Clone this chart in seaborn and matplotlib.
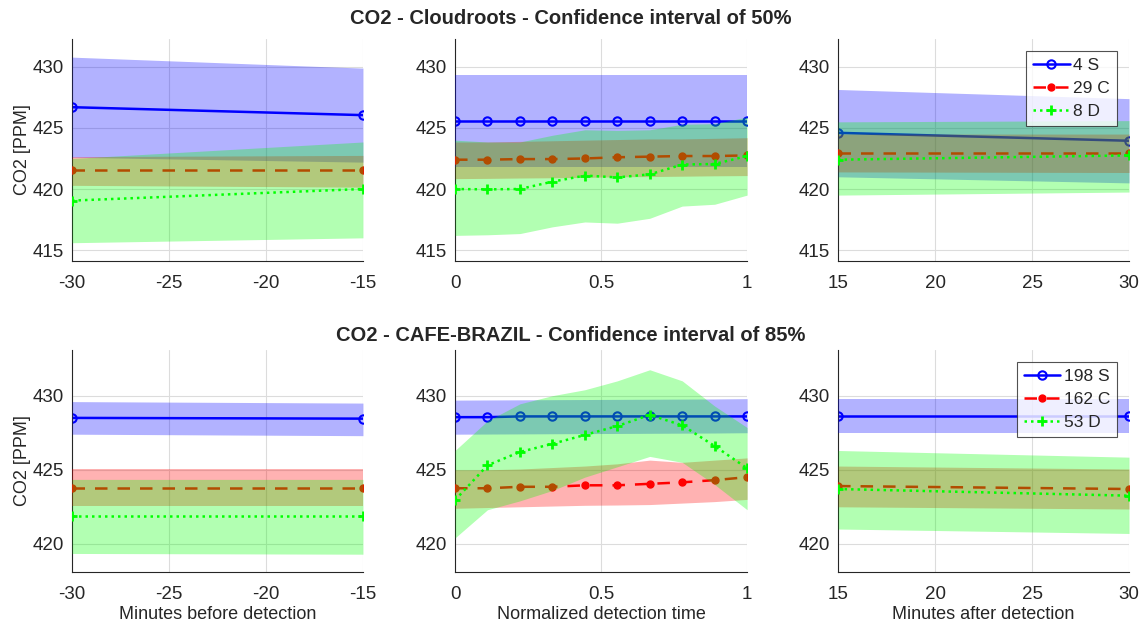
import numpy as np
import matplotlib
matplotlib.use("Agg")
import matplotlib.pyplot as plt
import seaborn as sns

sns.set_style("white")
plt.rcParams['font.family'] = ['Liberation Sans', 'DejaVu Sans']

# x positions
x_before = [-30, -15]
x_norm = [0, 1/9, 2/9, 3/9, 4/9, 5/9, 6/9, 7/9, 8/9, 1]
x_after = [15, 30]

# ---- Cloudroots (50%) ----
cr_before_S = [426.7, 426.05]
cr_before_S_lo = [422.6, 422.2]
cr_before_S_hi = [430.8, 429.9]
cr_before_C = [421.55, 421.55]
cr_before_C_lo = [420.3, 420.15]
cr_before_C_hi = [422.65, 422.75]
cr_before_D = [419.05, 420.0]
cr_before_D_lo = [415.6, 416.0]
cr_before_D_hi = [422.5, 423.85]

cr_norm_S = [425.55] * 10
cr_norm_S_lo = [421.8] * 10
cr_norm_S_hi = [429.3] * 10
cr_norm_C = [422.4, 422.4, 422.45, 422.45, 422.5, 422.6, 422.65, 422.7, 422.7, 422.75]
cr_norm_C_lo = [420.85, 420.87, 420.9, 420.92, 420.95, 421.0, 421.02, 421.05, 421.08, 421.1]
cr_norm_C_hi = [423.85, 423.85, 423.9, 423.95, 424.0, 424.05, 424.1, 424.1, 424.15, 424.2]
cr_norm_D = [420.0, 419.97, 420.0, 420.6, 421.1, 420.95, 421.2, 422.0, 422.05, 422.7]
cr_norm_D_lo = [416.2, 416.25, 416.35, 416.9, 417.3, 417.2, 417.6, 418.6, 418.75, 419.5]
cr_norm_D_hi = [424.0, 423.85, 423.85, 424.4, 424.85, 424.8, 424.85, 425.3, 425.35, 425.9]

cr_after_S = [424.6, 423.95]
cr_after_S_lo = [421.0, 420.5]
cr_after_S_hi = [428.15, 427.4]
cr_after_C = [422.95, 422.95]
cr_after_C_lo = [421.4, 421.35]
cr_after_C_hi = [424.5, 424.5]
cr_after_D = [422.4, 422.75]
cr_after_D_lo = [419.5, 419.75]
cr_after_D_hi = [425.5, 425.6]

# ---- CAFE-BRAZIL (85%) ----
cb_before_S = [428.5, 428.45]
cb_before_S_lo = [427.4, 427.3]
cb_before_S_hi = [429.6, 429.5]
cb_before_C = [423.8, 423.8]
cb_before_C_lo = [422.55, 422.55]
cb_before_C_hi = [425.05, 425.05]
cb_before_D = [421.85, 421.85]
cb_before_D_lo = [419.35, 419.3]
cb_before_D_hi = [424.35, 424.35]

cb_norm_S = [428.55, 428.55, 428.6, 428.6, 428.6, 428.6, 428.6, 428.6, 428.6, 428.6]
cb_norm_S_lo = [427.4, 427.41, 427.42, 427.43, 427.44, 427.45, 427.46, 427.47, 427.48, 427.5]
cb_norm_S_hi = [429.7, 429.71, 429.72, 429.73, 429.74, 429.75, 429.76, 429.77, 429.78, 429.8]
cb_norm_C = [423.75, 423.75, 423.85, 423.85, 423.95, 423.95, 424.05, 424.15, 424.3, 424.5]
cb_norm_C_lo = [422.4, 422.45, 422.5, 422.55, 422.6, 422.62, 422.65, 422.75, 422.85, 423.0]
cb_norm_C_hi = [425.0, 425.0, 425.05, 425.15, 425.25, 425.4, 425.65, 425.5, 425.65, 425.8]
cb_norm_D = [422.95, 425.3, 426.2, 426.75, 427.35, 427.95, 428.7, 428.0, 426.6, 425.1]
cb_norm_D_lo = [420.4, 422.3, 422.9, 423.6, 424.5, 425.2, 425.9, 425.5, 424.0, 422.3]
cb_norm_D_hi = [426.3, 428.3, 429.45, 430.0, 430.4, 431.0, 431.75, 431.0, 429.3, 427.85]

cb_after_S = [428.6, 428.6]
cb_after_S_lo = [427.45, 427.45]
cb_after_S_hi = [429.8, 429.8]
cb_after_C = [423.9, 423.7]
cb_after_C_lo = [422.5, 422.35]
cb_after_C_hi = [425.25, 425.05]
cb_after_D = [423.7, 423.25]
cb_after_D_lo = [421.0, 420.7]
cb_after_D_hi = [426.3, 425.85]

cr_labels = ["4 S", "29 C", "8 D"]
cb_labels = ["198 S", "162 C", "53 D"]

styles = [
    dict(color="#0000ff", linestyle="-", marker="o", markersize=6,
         markerfacecolor="none", markeredgecolor="#0000ff", markeredgewidth=1.5),
    dict(color="#ff0000", linestyle=(0, (5, 4)), marker=".", markersize=10,
         markerfacecolor="#ff0000", markeredgecolor="#ff0000", markeredgewidth=1),
    dict(color="#00ff00", linestyle=(0, (1, 1.6)), marker="+", markersize=7,
         markerfacecolor="#00ff00", markeredgecolor="#00ff00", markeredgewidth=2),
]

fig = plt.figure(figsize=(11.41, 6.26), dpi=100)

lefts = [0.0631, 0.3988, 0.7345]
widths = [0.255, 0.256, 0.255]
bottoms = [0.583, 0.0863]
height = 0.355

rows = [
    dict(title="CO2 - Cloudroots - Confidence interval of 50%", ylim=(414.1, 432.3),
         yticks=[415, 420, 425, 430], labels=cr_labels,
         panels=[
             (x_before, [(cr_before_S, cr_before_S_lo, cr_before_S_hi),
                         (cr_before_C, cr_before_C_lo, cr_before_C_hi),
                         (cr_before_D, cr_before_D_lo, cr_before_D_hi)]),
             (x_norm, [(cr_norm_S, cr_norm_S_lo, cr_norm_S_hi),
                       (cr_norm_C, cr_norm_C_lo, cr_norm_C_hi),
                       (cr_norm_D, cr_norm_D_lo, cr_norm_D_hi)]),
             (x_after, [(cr_after_S, cr_after_S_lo, cr_after_S_hi),
                        (cr_after_C, cr_after_C_lo, cr_after_C_hi),
                        (cr_after_D, cr_after_D_lo, cr_after_D_hi)]),
         ]),
    dict(title="CO2 - CAFE-BRAZIL - Confidence interval of 85%", ylim=(418.1, 433.1),
         yticks=[420, 425, 430], labels=cb_labels,
         panels=[
             (x_before, [(cb_before_S, cb_before_S_lo, cb_before_S_hi),
                         (cb_before_C, cb_before_C_lo, cb_before_C_hi),
                         (cb_before_D, cb_before_D_lo, cb_before_D_hi)]),
             (x_norm, [(cb_norm_S, cb_norm_S_lo, cb_norm_S_hi),
                       (cb_norm_C, cb_norm_C_lo, cb_norm_C_hi),
                       (cb_norm_D, cb_norm_D_lo, cb_norm_D_hi)]),
             (x_after, [(cb_after_S, cb_after_S_lo, cb_after_S_hi),
                        (cb_after_C, cb_after_C_lo, cb_after_C_hi),
                        (cb_after_D, cb_after_D_lo, cb_after_D_hi)]),
         ]),
]

xticks = [[-30, -25, -20, -15], [0, 0.5, 1], [15, 20, 25, 30]]
xticklabels = [["-30", "-25", "-20", "-15"], ["0", "0.5", "1"], ["15", "20", "25", "30"]]
xlabels = ["Minutes before detection", "Normalized detection time", "Minutes after detection"]
title_y = [0.971, 0.464]

for r, row in enumerate(rows):
    for c, (xs, series) in enumerate(row["panels"]):
        ax = fig.add_axes([lefts[c], bottoms[r], widths[c], height])
        for k, (y, lo, hi) in enumerate(series):
            st = styles[k]
            sns.lineplot(x=xs, y=y, ax=ax, linewidth=1.8, label=row["labels"][k],
                         legend=False, zorder=2 + 2 * k, **st)
            ax.fill_between(xs, lo, hi, color=st["color"], alpha=0.3,
                            linewidth=0, zorder=3 + 2 * k)
        ax.set_xlim(xs[0], xs[-1])
        ax.set_ylim(*row["ylim"])
        ax.set_yticks(row["yticks"])
        ax.set_xticks(xticks[c])
        ax.set_xticklabels(xticklabels[c])
        ax.grid(True, color="#dcdcdc", linewidth=0.8, zorder=0)
        ax.set_axisbelow(True)
        for s in ["top", "right"]:
            ax.spines[s].set_visible(False)
        for s in ["left", "bottom"]:
            ax.spines[s].set_color("#262626")
            ax.spines[s].set_linewidth(0.8)
        ax.tick_params(axis="both", labelsize=13.5, colors="#262626", direction="in",
                       length=3, width=0.6)
        ax.tick_params(axis="x", pad=10)
        ax.tick_params(axis="y", pad=6)
        if c == 0:
            ax.set_ylabel("CO2 [PPM]", fontsize=13, color="#262626", labelpad=1)
        else:
            ax.set_ylabel("")
        if r == 1:
            ax.set_xlabel(xlabels[c], fontsize=13, color="#262626", labelpad=2)
        else:
            ax.set_xlabel("")
        if c == 2:
            leg = ax.legend(loc="upper right", fontsize=12.5, frameon=True, fancybox=False,
                            edgecolor="#262626", handlelength=2.1, handletextpad=0.2,
                            borderpad=0.4, labelspacing=0.45, borderaxespad=0.7)
            leg.get_frame().set_linewidth(0.8)
            leg.set_zorder(20)
    fig.text(0.5, title_y[r], row["title"], ha="center", va="center",
             fontsize=14.5, fontweight="bold")

fig.savefig("out.png", dpi=100)
